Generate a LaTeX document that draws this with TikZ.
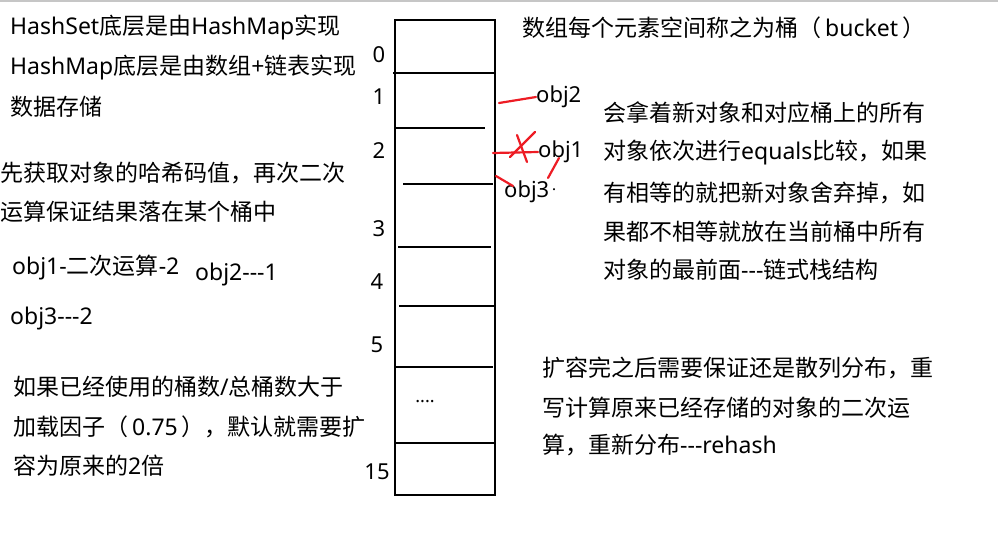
\documentclass[tikz,border=0pt]{standalone}
\usepackage{fontspec}
\setmainfont{Noto Sans CJK SC}
\newfontfamily\lat{Noto Sans}
\newcommand{\tridash}{-\kern0pt-\kern0pt-}
\definecolor{pen}{RGB}{237,28,36}
\begin{document}
\begin{tikzpicture}[x=1pt,y=-1pt,
  txt/.style={anchor=west,inner sep=0pt,font=\fontsize{23}{26}\selectfont},
  num/.style={anchor=center,inner sep=0pt,font=\fontsize{22}{26}\selectfont\lat},
  divider/.style={line width=2.6pt,black},
  redline/.style={line width=2.2pt,pen,line cap=round}]
\useasboundingbox (0,0) rectangle (998,533);
\draw[gray!45,line width=1.5pt] (0,0.75) -- (998,0.75);
% array
\node[draw,line width=2.6pt,minimum width=100pt,minimum height=475pt,inner sep=0pt] (arr) at (445,257.5) {};
\draw[divider] (393,73) -- (495,73);
\draw[divider] (395,128) -- (485,128);
\draw[divider] (403,184) -- (493,184);
\draw[divider] (398,247) -- (491,247);
\draw[divider] (399,306) -- (495,306);
\draw[divider] (395,367) -- (493,367);
\draw[divider] (395,443) -- (495,443);
\node[num] (i0) at (379,55) {0};
\node[num] (i1) at (379,97) {1};
\node[num] (i2) at (379,151) {2};
\node[num] (i3) at (379,229) {3};
\node[num] (i4) at (377,282) {4};
\node[num] (i5) at (377,345) {5};
\node[num] (i15) at (377,472) {15};
\node[anchor=center,inner sep=0pt,font=\fontsize{18}{20}\selectfont\lat] (dots) at (425,402) {....};
% objects
\node[txt,font=\fontsize{22}{26}\selectfont\lat] (obj2) at (536,97) {obj2};
\node[txt,font=\fontsize{22}{26}\selectfont\lat] (obj1) at (538,152) {obj1};
\node[txt,font=\fontsize{22}{26}\selectfont\lat] (obj3) at (504,192) {obj3};
\node[inner sep=0pt,font=\fontsize{10}{12}\selectfont] (dot3) at (554,191) {·};
\coordinate (c1) at (499,103);
\coordinate (c2a) at (493,153);
\coordinate (c3) at (496,176);
\draw[redline] (c1) -- (obj2.west);
\draw[redline] (c2a) -- (obj1.west);
\draw[redline] (510,157) -- (535,132);
\draw[redline] (517,135) -- (527,162);
\draw[redline] (c3) -- (513,186);
\draw[redline] (559,158) -- (548,178);
% left texts
\node[txt] (t1) at (10,28) {{\lat HashSet}底层是由{\lat HashMap}实现};
\node[txt] (t2) at (10,68) {{\lat HashMap}底层是由数组{\lat +}链表实现};
\node[txt] (t3) at (10,107) {数据存储};
\node[txt] (t4) at (0,173) {先获取对象的哈希码值，再次二次};
\node[txt] (t5) at (0,212) {运算保证结果落在某个桶中};
\node[txt] (t6) at (12,268) {{\lat obj1-}二次运算{\lat -2}};
\node[txt] (t7) at (195,275) {{\lat obj2\tridash 1}};
\node[txt] (t8) at (10,319) {{\lat obj3\tridash 2}};
\node[txt] (t9) at (13,387) {如果已经使用的桶数{\lat /}总桶数大于};
\node[txt] (t10) at (13,427) {加载因子（\hspace{4pt}{\lat 0.75}\hspace{4pt}），默认就需要扩};
\node[txt] (t11) at (13,466) {容为原来的{\lat 2}倍};
% right texts
\node[txt] (r0) at (522,28) {数组每个元素空间称之为桶（\hspace{4pt}{\lat bucket}\hspace{4pt}）};
\node[txt] (r1) at (603,113) {会拿着新对象和对应桶上的所有};
\node[txt] (r2) at (603,153) {对象依次进行{\lat equals}比较，如果};
\node[txt] (r3) at (603,193) {有相等的就把新对象舍弃掉，如};
\node[txt] (r4) at (603,232) {果都不相等就放在当前桶中所有};
\node[txt] (r5) at (603,270) {对象的最前面{\lat\tridash}链式栈结构};
\node[txt] (b1) at (542,368) {扩容完之后需要保证还是散列分布，重};
\node[txt] (b2) at (542,408) {写计算原来已经存储的对象的二次运};
\node[txt] (b3) at (542,445) {算，重新分布{\lat\tridash rehash}};
\end{tikzpicture}
\end{document}
